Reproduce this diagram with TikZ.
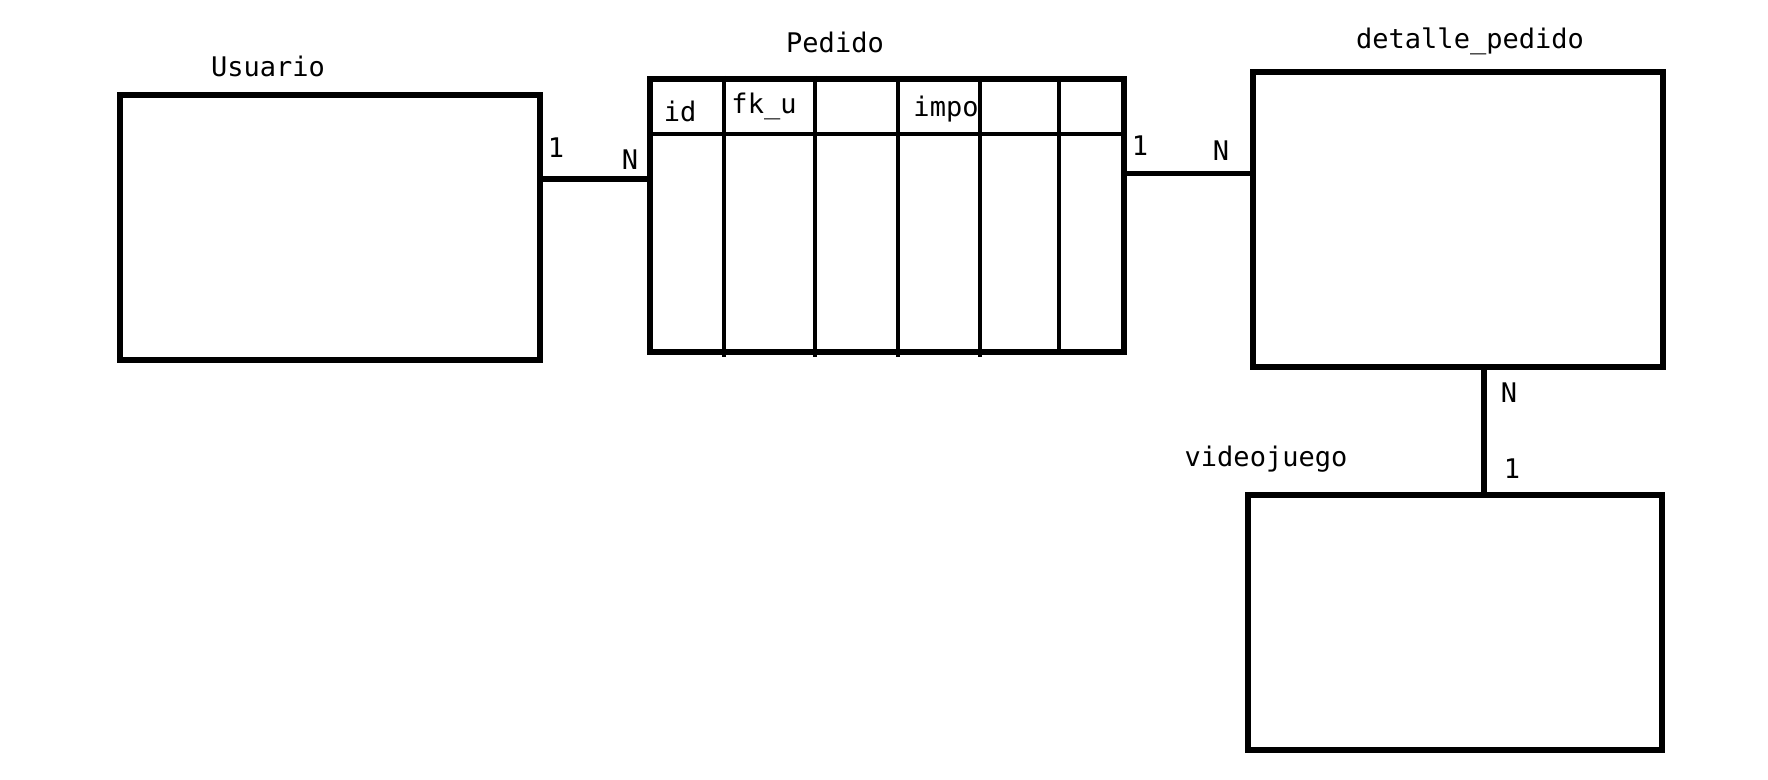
\documentclass[tikz,border=0pt]{standalone}
\usepackage{fontspec}
\setmonofont{DejaVu Sans Mono}
\usetikzlibrary{positioning}

\begin{document}
\begin{tikzpicture}
			[x=0.5pt, y=-0.5pt, font=\ttfamily\fontsize{13.5}{16}\selectfont, inner sep=0pt, outer sep=0pt,
			entity/.style		= {draw, rectangle, line width=2.6pt},
			caption/.style		= {anchor=base},
			cardinal/.style		= {anchor=base},
			link/.style			= {line width=2.6pt},
			grid/.style			= {line width=2.4pt}]
			
			\useasboundingbox (0,0) rectangle (1768,780);
			
			% entities
			\node [entity, minimum width=210pt, minimum height=132.5pt]	at (330,227.5)	(usuario)	{};
			\node [entity, minimum width=237pt, minimum height=136.5pt]	at (887,215.5)	(pedido)	{};
			\node [entity, minimum width=205pt, minimum height=147.5pt]	[right = 64.5pt of pedido, yshift=-2pt]	(detalle)	{};
			\node [entity, minimum width=207pt, minimum height=127.5pt]	[below = 64pt of detalle, xshift=-1.5pt]	(videojuego)	{};
			
			% table grid of Pedido
			\draw [grid] (650,134) -- (1124,134);
			\foreach \cx/\ctop/\cbot in {724/76/357, 815/76/357, 898/79/357, 980/79/357, 1059/79/355}
				\draw [grid] (\cx,\ctop) -- (\cx,\cbot);
			
			% titles
			\node [caption]	at (268,77)		(tusuario)		{Usuario};
			\node [caption]	at (835,53)		(tpedido)		{Pedido};
			\node [caption]	at (1470,49)	(tdetalle)		{detalle\_pedido};
			\node [caption]	at (1266,467)	(tvideojuego)	{videojuego};
			
			% fields
			\node [caption]	at (680,122)	(fid)	{id};
			\node [caption]	at (764,114)	(ffk)	{fk\_u};
			\node [caption]	at (946,117)	(fimp)	{impo};
			
			% relations
			\draw [link] (usuario.13.3) -- (usuario.13.3 -| pedido.west);
			\draw [link] (pedido.10.2) -- (pedido.10.2 -| detalle.west);
			\draw [link] (detalle.-80) -- (detalle.-80 |- videojuego.north);
			
			\node [cardinal]	at (556,158)	(c1)	{1};
			\node [cardinal]	at (630,170)	(c2)	{N};
			\node [cardinal]	at (1140,156)	(c3)	{1};
			\node [cardinal]	at (1221,161)	(c4)	{N};
			\node [cardinal]	at (1509,403)	(c5)	{N};
			\node [cardinal]	at (1512,479)	(c6)	{1};
			\end{tikzpicture}
\end{document}
